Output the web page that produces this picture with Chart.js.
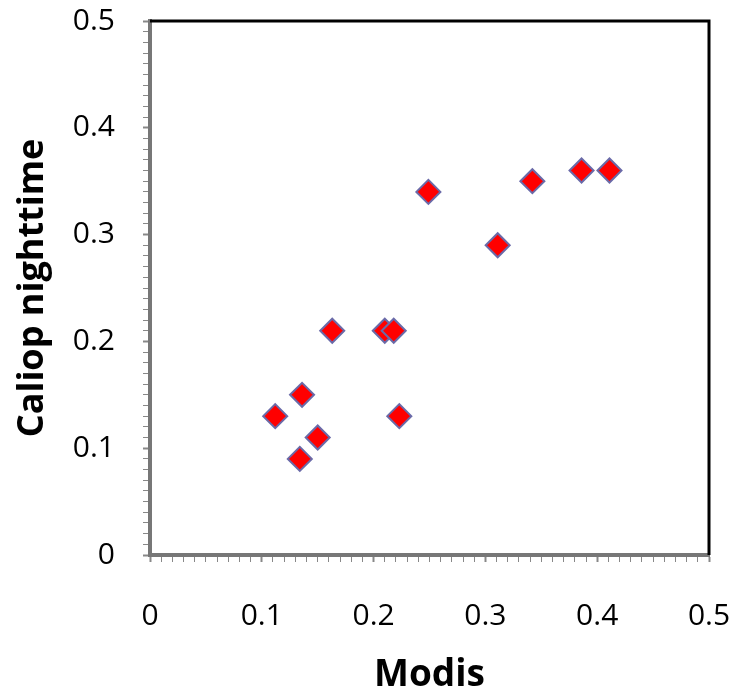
<!DOCTYPE html>
<html lang="en">
<head>
  <meta charset="UTF-8">
  <title>Caliop nighttime vs Modis</title>
  <script src="https://cdn.jsdelivr.net/npm/chart.js"></script>
  <style>
    html, body {
      margin: 0;
      padding: 0;
      background: #fff;
    }
    #wrap {
      width: 732px;
      height: 698px;
    }
  </style>
</head>
<body>
  <div id="wrap"><canvas id="scatter" width="732" height="698"></canvas></div>

  <script>
    // values
    const modis  = [0.112, 0.136, 0.134, 0.150, 0.163, 0.210, 0.218, 0.223, 0.249, 0.311, 0.342, 0.386, 0.411];
    const caliop = [0.13,  0.15,  0.09,  0.11,  0.21,  0.21,  0.21,  0.13,  0.34,  0.29,  0.35,  0.36,  0.36];

    const xTitle = 'Modis';
    const yTitle = 'Caliop nighttime';

    const points = modis.map((x, i) => ({ x: x, y: caliop[i] }));

    const isMajor = v => Math.round(v * 100) % 10 === 0;
    const tickLabel = v => isMajor(v) ? (Math.round(v * 10) === 0 ? '0' : (Math.round(v * 10) / 10).toString()) : '';

    // black frame on top and right edges
    const frame = {
      id: 'frame',
      beforeDatasetsDraw(chart) {
        const a = chart.chartArea;
        const c = chart.ctx;
        c.save();
        c.strokeStyle = '#000';
        c.lineWidth = 3;
        c.beginPath();
        c.moveTo(a.left, a.top);
        c.lineTo(a.right, a.top);
        c.lineTo(a.right, a.bottom);
        c.stroke();
        c.restore();
      }
    };

    const tickFont = { family: '"Open Sans", sans-serif', size: 30 };
    const titleFont = { family: '"Open Sans", sans-serif', size: 37, weight: 'bold' };

    new Chart(document.getElementById('scatter'), {
      type: 'scatter',
      data: {
        datasets: [{
          data: points,
          pointStyle: 'rectRot',
          pointRadius: 12,
          pointHoverRadius: 12,
          backgroundColor: '#ff0000',
          borderColor: '#6a6aa8',
          borderWidth: 2
        }]
      },
      options: {
        responsive: false,
        animation: false,
        layout: { padding: { left: 0, top: 21, right: 23, bottom: 0 } },
        plugins: {
          legend: { display: false },
          tooltip: { enabled: false }
        },
        scales: {
          x: {
            type: 'linear',
            min: 0,
            max: 0.5,
            afterFit: s => {
              s.height = 143;
              s.paddingLeft = 0;
              s.paddingRight = 0;
            },
            border: { color: '#777', width: 4 },
            grid: {
              drawOnChartArea: false,
              tickLength: 7,
              tickColor: '#888',
              tickWidth: c => isMajor(c.tick.value) ? 2 : 1
            },
            ticks: {
              stepSize: 0.01,
              autoSkip: false,
              maxRotation: 0,
              color: '#000',
              font: tickFont,
              padding: 36,
              callback: v => tickLabel(v)
            },
            title: {
              display: true,
              text: xTitle,
              color: '#000',
              font: titleFont,
              padding: 0
            }
          },
          y: {
            type: 'linear',
            min: 0,
            max: 0.5,
            afterFit: s => {
              s.width = 150;
              s.paddingTop = 0;
              s.paddingBottom = 0;
            },
            border: { color: '#777', width: 4 },
            grid: {
              drawOnChartArea: false,
              tickLength: 7,
              tickColor: '#888',
              tickWidth: c => isMajor(c.tick.value) ? 2 : 1
            },
            ticks: {
              stepSize: 0.01,
              autoSkip: false,
              color: '#000',
              font: tickFont,
              padding: 28,
              callback: v => tickLabel(v)
            },
            title: {
              display: true,
              text: yTitle,
              color: '#000',
              font: { family: '"Open Sans", sans-serif', size: 36, weight: 'bold' },
              padding: 11
            }
          }
        }
      },
      plugins: [frame]
    });
  </script>
</body>
</html>
